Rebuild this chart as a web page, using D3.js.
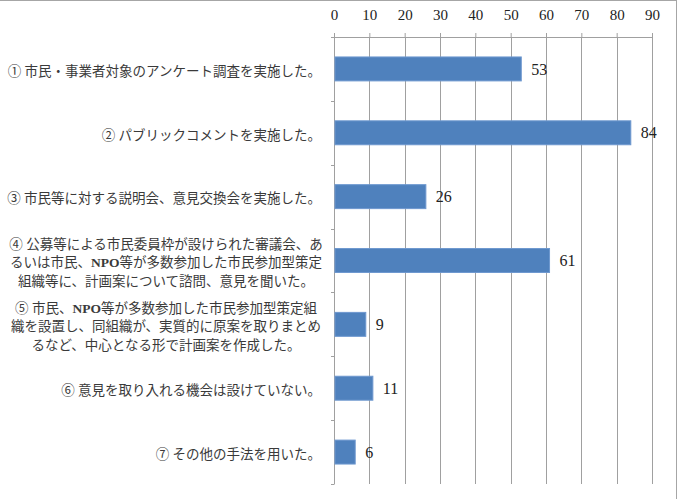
<!DOCTYPE html>
<html>
<head>
<meta charset="utf-8">
<script src="https://cdn.jsdelivr.net/npm/d3@7"></script>
<style>
  body { margin: 0; background: #fff; }
  svg { display: block; }
</style>
</head>
<body>
<div id="chart"></div>
<script>
// Data
const categories = ["q1", "q2", "q3", "q4", "q5", "q6", "q7"];
const values = [53, 84, 26, 61, 9, 11, 6];
const labelLines = [
  ["① 市民・事業者対象のアンケート調査を実施した。"],
  ["② パブリックコメントを実施した。"],
  ["③ 市民等に対する説明会、意見交換会を実施した。"],
  ["④ 公募等による市民委員枠が設けられた審議会、あ", "るいは市民、NPO等が多数参加した市民参加型策定", "組織等に、計画案について諮問、意見を聞いた。"],
  ["⑤ 市民、NPO等が多数参加した市民参加型策定組", "織を設置し、同組織が、実質的に原案を取りまとめ", "るなど、中心となる形で計画案を作成した。"],
  ["⑥ 意見を取り入れる機会は設けていない。"],
  ["⑦ その他の手法を用いた。"]
];
const xTicks = [0, 10, 20, 30, 40, 50, 60, 70, 80, 90];

// Set up margins and dimensions
const W = 677, H = 499;
const margin = { top: 37, right: 25, bottom: 15, left: 334 };
const width = W - margin.left - margin.right;
const height = H - margin.top - margin.bottom;

const jpFont = "'Liberation Serif', 'DejaVu Serif', 'Noto Sans CJK JP', serif";
const numFont = "'Liberation Serif', 'DejaVu Serif', serif";
const textColor = "#3a3a3a";

const root = d3.select("#chart")
  .append("svg")
  .attr("width", W)
  .attr("height", H);

// Outer frame (top and right edges visible)
root.append("line")
  .attr("x1", 0).attr("x2", W).attr("y1", 0.5).attr("y2", 0.5)
  .style("stroke", "#a6a6a6");
root.append("line")
  .attr("x1", W - 0.5).attr("x2", W - 0.5).attr("y1", 0).attr("y2", H)
  .style("stroke", "#a6a6a6");

const svg = root.append("g")
  .attr("transform", `translate(${margin.left},${margin.top})`);

// Scales
const xScale = d3.scaleLinear()
  .domain([0, 90])
  .range([0, width]);

const yScale = d3.scaleBand()
  .domain(categories)
  .range([0, height])
  .paddingInner(0.625)
  .paddingOuter(0.3125);

const bandStep = height / categories.length;

// Vertical grid lines
svg.selectAll("line.grid")
  .data(xTicks.slice(1))
  .enter()
  .append("line")
  .attr("class", "grid")
  .attr("x1", d => Math.round(xScale(d)) + 0.5)
  .attr("x2", d => Math.round(xScale(d)) + 0.5)
  .attr("y1", 0)
  .attr("y2", height)
  .style("stroke", "#a0a0a0")
  .style("stroke-width", 1);

// Top axis
const xAxis = svg.append("g")
  .call(d3.axisTop(xScale)
    .tickValues(xTicks)
    .tickSize(4)
    .tickSizeOuter(0)
    .tickPadding(13)
  );
xAxis.select(".domain").style("stroke", "#a0a0a0").attr("d", `M-3,0.5H${width + 0.5}`);
xAxis.selectAll(".tick line").style("stroke", "#a0a0a0");
xAxis.selectAll("text")
  .style("font-family", numFont)
  .style("font-size", "15px")
  .style("fill", "#222");

// Left axis line and band boundary ticks
svg.append("line")
  .attr("x1", 0.5).attr("x2", 0.5)
  .attr("y1", 0).attr("y2", height)
  .style("stroke", "#a0a0a0");

svg.selectAll("line.cat-tick")
  .data(d3.range(1, categories.length + 1))
  .enter()
  .append("line")
  .attr("class", "cat-tick")
  .attr("x1", -3)
  .attr("x2", 0.5)
  .attr("y1", d => Math.round(d * bandStep) + 0.5)
  .attr("y2", d => Math.round(d * bandStep) + 0.5)
  .style("stroke", "#a0a0a0");

// Bars
svg.selectAll("rect.bar")
  .data(values)
  .enter()
  .append("rect")
  .attr("class", "bar")
  .attr("x", 1)
  .attr("y", (d, i) => yScale(categories[i]))
  .attr("width", d => xScale(d) - 1)
  .attr("height", yScale.bandwidth())
  .style("fill", "#4f81bd")
  .style("stroke", "#6e98cf")
  .style("stroke-width", 1);

// Value labels
svg.selectAll("text.value")
  .data(values)
  .enter()
  .append("text")
  .attr("class", "value")
  .attr("x", d => xScale(d) + 10)
  .attr("y", (d, i) => yScale(categories[i]) + yScale.bandwidth() / 2)
  .attr("dy", "0.35em")
  .style("font-family", numFont)
  .style("font-size", "16px")
  .style("fill", "#222")
  .text(d => d);

// Category labels
const lineH = 18.5;
labelLines.forEach((lines, i) => {
  const cy = yScale(categories[i]) + yScale.bandwidth() / 2 + 2;
  const multi = lines.length > 1;
  const lx = multi ? -168 : -13;
  const t = svg.append("text")
    .attr("text-anchor", multi ? "middle" : "end")
    .attr("x", lx)
    .style("font-family", jpFont)
    .style("font-size", "13.5px")
    .style("fill", textColor);
  lines.forEach((line, j) => {
    const y = cy + (j - (lines.length - 1) / 2) * lineH;
    const tl = t.append("tspan")
      .attr("x", lx)
      .attr("y", y)
      .attr("dy", "0.35em");
    // NPO is set in bold
    const parts = line.split("NPO");
    parts.forEach((p, k) => {
      tl.append("tspan").text(p);
      if (k < parts.length - 1) {
        tl.append("tspan").style("font-weight", "bold").text("NPO");
      }
    });
  });
});
</script>
</body>
</html>
